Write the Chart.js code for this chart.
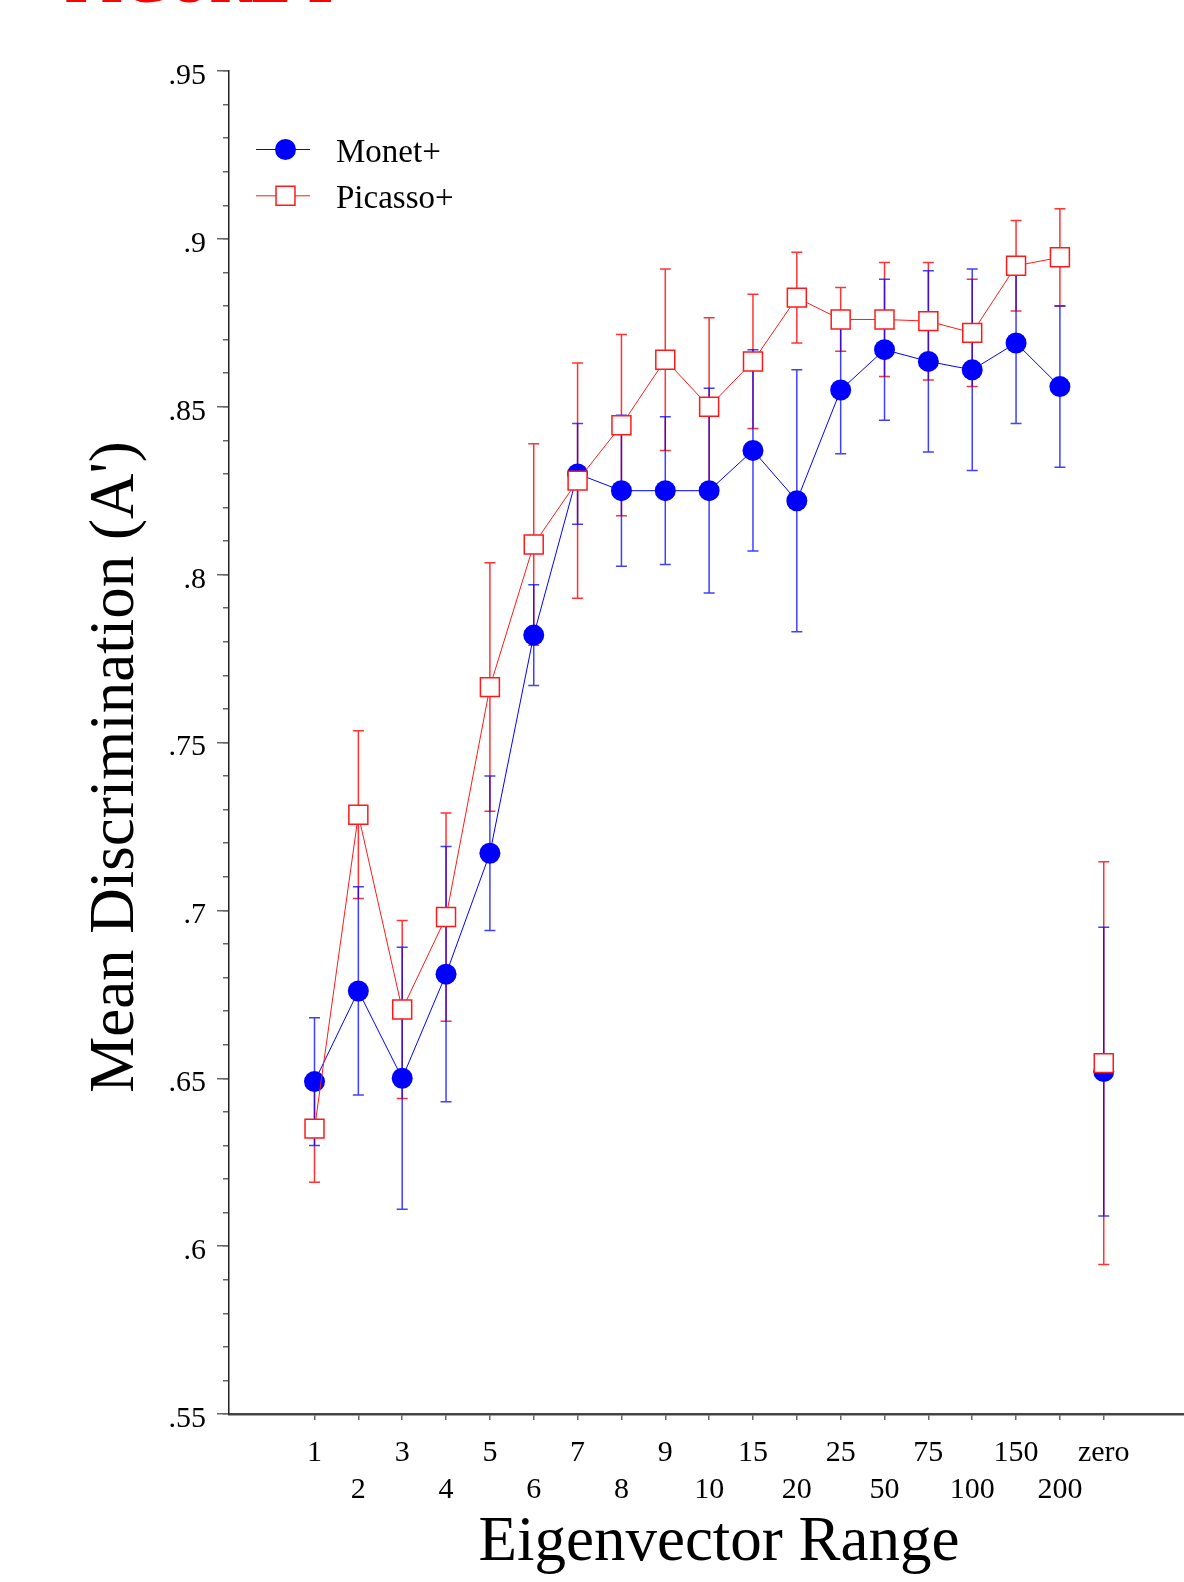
<!DOCTYPE html>
<html>
<head>
<meta charset="utf-8">
<script src="https://cdn.jsdelivr.net/npm/chart.js@4.4.1/dist/chart.umd.min.js"></script>
<style>
  html, body { margin: 0; padding: 0; background: #fff; overflow: hidden; }
  #wrap { position: relative; width: 1184px; height: 1582px; }
  #discChart { display: block; }
</style>
</head>
<body>
<div id="wrap"><canvas id="discChart"></canvas></div>
<script>
const xLabels = ['1', '2', '3', '4', '5', '6', '7', '8', '9', '10', '15', '20', '25', '50', '75', '100', '150', '200', 'zero'];
const yTickLabels = ['.55', '.6', '.65', '.7', '.75', '.8', '.85', '.9', '.95'];

const monetValues = [0.649, 0.676, 0.650, 0.681, 0.717, 0.782, 0.830, 0.825, 0.825, 0.825, 0.837, 0.822, 0.855, 0.867, 0.8635, 0.861, 0.869, 0.856, 0.652];
const monetErrors = [0.019, 0.031, 0.039, 0.038, 0.023, 0.015, 0.015, 0.0225, 0.022, 0.0305, 0.030, 0.039, 0.019, 0.021, 0.027, 0.030, 0.024, 0.024, 0.043];
const picassoValues = [0.635, 0.7285, 0.6705, 0.698, 0.7665, 0.809, 0.828, 0.8445, 0.864, 0.850, 0.8635, 0.8825, 0.876, 0.876, 0.8755, 0.872, 0.892, 0.8945, 0.6545];
const picassoErrors = [0.016, 0.025, 0.0265, 0.031, 0.037, 0.030, 0.035, 0.027, 0.027, 0.0265, 0.020, 0.0135, 0.0095, 0.017, 0.0175, 0.016, 0.0135, 0.0145, 0.060];

const SERIF = "'Liberation Serif', 'Times New Roman', serif";
const BLUE = '#0000ff';
const RED = '#ff1a1a';
const zeroIndex = xLabels.indexOf('zero');

// minor ticks every .01
const minorTicks = [];
for (let k = 55; k <= 95; k++) minorTicks.push({ value: k / 100 });

// vertical error bars, drawn under the markers
const errorBars = {
    id: 'errorBars',
    beforeDatasetsDraw(chart) {
        const ctx = chart.ctx;
        const xs = chart.scales.x;
        const ys = chart.scales.y;
        ctx.save();
        chart.data.datasets.forEach((ds) => {
            ctx.strokeStyle = ds.errorColor;
            ctx.lineWidth = 1.5;
            ds.data.forEach((p, i) => {
                const e = ds.errors[i];
                const px = xs.getPixelForValue(p.x);
                const top = ys.getPixelForValue(p.y + e);
                const bot = ys.getPixelForValue(p.y - e);
                ctx.beginPath();
                ctx.moveTo(px, top);
                ctx.lineTo(px, bot);
                ctx.moveTo(px - 5.5, top);
                ctx.lineTo(px + 5.5, top);
                ctx.moveTo(px - 5.5, bot);
                ctx.lineTo(px + 5.5, bot);
                ctx.stroke();
            });
        });
        ctx.restore();
    }
};

// legend inside the plot, axis titles, clipped header
const decorations = {
    id: 'decorations',
    afterDraw(chart) {
        const ctx = chart.ctx;
        ctx.save();

        ctx.fillStyle = '#ff0000';
        ctx.font = 'bold 58px ' + SERIF;
        ctx.textAlign = 'left';
        ctx.textBaseline = 'alphabetic';
        ctx.fillText('FIGURE 1', 65, 2);

        const rows = [chart.data.datasets[1], chart.data.datasets[0]];
        rows.forEach((ds, r) => {
            const cy = 149.5 + r * 46.3;
            ctx.strokeStyle = ds.borderColor;
            ctx.lineWidth = 1;
            ctx.beginPath();
            ctx.moveTo(256, cy);
            ctx.lineTo(310, cy);
            ctx.stroke();
            ctx.fillStyle = ds.pointBackgroundColor;
            ctx.strokeStyle = ds.pointBorderColor;
            ctx.lineWidth = ds.pointBorderWidth;
            Chart.helpers.drawPoint(ctx, {
                pointStyle: ds.pointStyle,
                radius: ds.pointRadius,
                rotation: 0,
                borderWidth: ds.pointBorderWidth
            }, 285.5, cy);
            ctx.fillStyle = '#000';
            ctx.font = '33px ' + SERIF;
            ctx.textAlign = 'left';
            ctx.textBaseline = 'alphabetic';
            ctx.fillText(ds.label, 336, cy + 12);
        });

        ctx.fillStyle = '#000';
        ctx.font = '63px ' + SERIF;
        ctx.textAlign = 'center';
        ctx.textBaseline = 'alphabetic';
        ctx.fillText('Eigenvector Range', 719, 1560);

        ctx.translate(133, 767);
        ctx.rotate(-Math.PI / 2);
        ctx.fillText("Mean Discrimination (A')", 0, 0);
        ctx.restore();
    }
};

const ctx = document.getElementById('discChart').getContext('2d');
const discChart = new Chart(ctx, {
    type: 'line',
    data: {
        datasets: [
            {
                label: 'Picasso+',
                data: picassoValues.map((v, i) => ({ x: i, y: v })),
                errors: picassoErrors,
                errorColor: 'rgba(255, 0, 0, 0.8)',
                borderColor: RED,
                borderWidth: 1,
                pointStyle: 'rect',
                pointRadius: 13.4,
                pointHoverRadius: 13.4,
                pointBackgroundColor: '#ffffff',
                pointBorderColor: RED,
                pointBorderWidth: 1.5,
                tension: 0,
                order: 0,
                segment: {
                    borderColor: (c) => (c.p1DataIndex === zeroIndex ? 'rgba(0,0,0,0)' : undefined)
                }
            },
            {
                label: 'Monet+',
                data: monetValues.map((v, i) => ({ x: i, y: v })),
                errors: monetErrors,
                errorColor: 'rgba(0, 0, 255, 0.75)',
                borderColor: BLUE,
                borderWidth: 1,
                pointStyle: 'circle',
                pointRadius: 10.5,
                pointHoverRadius: 10.5,
                pointBackgroundColor: BLUE,
                pointBorderColor: BLUE,
                pointBorderWidth: 0,
                tension: 0,
                order: 1,
                segment: {
                    borderColor: (c) => (c.p1DataIndex === zeroIndex ? 'rgba(0,0,0,0)' : undefined)
                }
            }
        ]
    },
    options: {
        responsive: true,
        maintainAspectRatio: false,
        animation: false,
        events: [],
        layout: { autoPadding: false, padding: { top: 71, left: 0, right: 0, bottom: 0 } },
        plugins: {
            legend: { display: false },
            tooltip: { enabled: false }
        },
        scales: {
            x: {
                type: 'linear',
                min: -1.95,
                max: 19.83,
                afterBuildTicks: (s) => { s.ticks = xLabels.map((_, i) => ({ value: i })); },
                afterFit: (s) => {
                    s.height = 168;
                    s.paddingLeft = 0;
                    s.paddingRight = 0;
                },
                grid: { drawOnChartArea: false, tickLength: 6, color: '#666', lineWidth: 1.5 },
                border: { color: '#444', width: 2.5 },
                ticks: {
                    autoSkip: false,
                    maxRotation: 0,
                    padding: 14.5,
                    color: '#000',
                    font: { family: SERIF, size: 30, lineHeight: '37px' },
                    callback: (v) => {
                        const i = Math.round(v);
                        const t = xLabels[i] || '';
                        return i % 2 === 0 ? [t, ''] : ['', t];
                    }
                }
            },
            y: {
                type: 'linear',
                position: 'left',
                weight: 1,
                min: 0.55,
                max: 0.95,
                afterBuildTicks: (s) => { s.ticks = yTickLabels.map((t) => ({ value: Number(t) })); },
                afterFit: (s) => { s.width = 229; },
                grid: { drawOnChartArea: false, tickLength: 12, color: '#666', lineWidth: 1.5 },
                border: { color: '#222', width: 1.5 },
                ticks: {
                    padding: 11,
                    labelOffset: 5,
                    color: '#000',
                    font: { family: SERIF, size: 30 },
                    callback: (v) => yTickLabels.find((t) => Math.abs(Number(t) - v) < 1e-6) || ''
                }
            },
            yMinor: {
                type: 'linear',
                position: 'left',
                weight: 0,
                min: 0.55,
                max: 0.95,
                afterBuildTicks: (s) => { s.ticks = minorTicks.slice(); },
                afterFit: (s) => { s.width = 0; },
                grid: { drawOnChartArea: false, tickLength: 6, color: '#666', lineWidth: 1.5 },
                border: { display: false },
                ticks: { display: false }
            }
        }
    },
    plugins: [errorBars, decorations]
});
</script>
</body>
</html>
